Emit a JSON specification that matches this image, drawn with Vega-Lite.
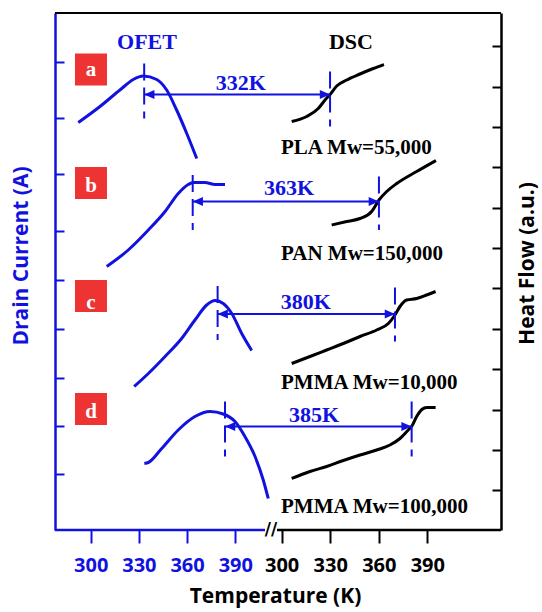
{
  "$schema": "https://vega.github.io/schema/vega-lite/v6.json",
  "background": "white",
  "padding": {"left": 10, "top": 12, "right": 4, "bottom": 2},
  "spacing": 0,
  "bounds": "flush",
  "config": {
    "view": {"stroke": null},
    "axis": {"grid": false, "labelFont": "Open Sans", "labelFontWeight": "bold", "labelFontSize": 20, "titleFont": "Open Sans", "titleFontWeight": "bold", "titleFontSize": 21},
    "text": {"font": "Liberation Serif", "fontWeight": "bold", "fontSize": 21}
  },
  "datasets": {
    "ofet": [
      {"panel": "a", "T": 292.3, "I": 81.5}, {"panel": "a", "T": 305.8, "I": 84.7}, {"panel": "a", "T": 318.2, "I": 88.0}, {"panel": "a", "T": 326.5, "I": 90.1}, {"panel": "a", "T": 332.7, "I": 90.8}, {"panel": "a", "T": 341.1, "I": 90.1}, {"panel": "a", "T": 347.3, "I": 88.0}, {"panel": "a", "T": 353.5, "I": 84.0}, {"panel": "a", "T": 359.8, "I": 79.3}, {"panel": "a", "T": 366.0, "I": 74.3},
      {"panel": "b", "T": 310.0, "I": 52.7}, {"panel": "b", "T": 323.4, "I": 56.0}, {"panel": "b", "T": 335.9, "I": 60.0}, {"panel": "b", "T": 346.3, "I": 63.7}, {"panel": "b", "T": 354.5, "I": 67.3}, {"panel": "b", "T": 360.7, "I": 69.1}, {"panel": "b", "T": 363.9, "I": 69.5}, {"panel": "b", "T": 371.1, "I": 69.5}, {"panel": "b", "T": 377.4, "I": 69.1}, {"panel": "b", "T": 383.6, "I": 69.1},
      {"panel": "c", "T": 327.1, "I": 28.7}, {"panel": "c", "T": 335.9, "I": 31.3}, {"panel": "c", "T": 346.3, "I": 34.7}, {"panel": "c", "T": 356.6, "I": 38.3}, {"panel": "c", "T": 364.9, "I": 42.0}, {"panel": "c", "T": 372.2, "I": 45.0}, {"panel": "c", "T": 377.4, "I": 45.9}, {"panel": "c", "T": 382.5, "I": 45.3}, {"panel": "c", "T": 387.8, "I": 43.3}, {"panel": "c", "T": 394.0, "I": 39.3}, {"panel": "c", "T": 400.2, "I": 35.9},
      {"panel": "d", "T": 333.4, "I": 13.3}, {"panel": "d", "T": 335.9, "I": 13.5}, {"panel": "d", "T": 344.2, "I": 16.3}, {"panel": "d", "T": 354.5, "I": 20.0}, {"panel": "d", "T": 364.9, "I": 22.7}, {"panel": "d", "T": 374.3, "I": 23.7}, {"panel": "d", "T": 382.5, "I": 23.2}, {"panel": "d", "T": 389.8, "I": 21.7}, {"panel": "d", "T": 396.0, "I": 18.7}, {"panel": "d", "T": 402.3, "I": 14.7}, {"panel": "d", "T": 407.4, "I": 10.0}, {"panel": "d", "T": 410.5, "I": 6.3}
    ],
    "dsc": [
      {"panel": "a", "T": 306.2, "H": 81.7}, {"panel": "a", "T": 315.5, "H": 82.7}, {"panel": "a", "T": 322.6, "H": 84.3}, {"panel": "a", "T": 326.8, "H": 86.0}, {"panel": "a", "T": 329.9, "H": 87.1}, {"panel": "a", "T": 334.0, "H": 88.8}, {"panel": "a", "T": 340.2, "H": 90.0}, {"panel": "a", "T": 348.4, "H": 91.2}, {"panel": "a", "T": 356.6, "H": 92.3}, {"panel": "a", "T": 363.2, "H": 93.1},
      {"panel": "b", "T": 330.9, "H": 61.0}, {"panel": "b", "T": 340.2, "H": 61.7}, {"panel": "b", "T": 348.4, "H": 62.3}, {"panel": "b", "T": 355.6, "H": 63.7}, {"panel": "b", "T": 360.1, "H": 66.0}, {"panel": "b", "T": 364.9, "H": 67.7}, {"panel": "b", "T": 371.1, "H": 69.3}, {"panel": "b", "T": 383.4, "H": 71.7}, {"panel": "b", "T": 395.3, "H": 73.9},
      {"panel": "c", "T": 306.2, "H": 33.3}, {"panel": "c", "T": 317.5, "H": 34.7}, {"panel": "c", "T": 327.8, "H": 36.0}, {"panel": "c", "T": 338.1, "H": 37.3}, {"panel": "c", "T": 348.4, "H": 38.7}, {"panel": "c", "T": 358.7, "H": 40.0}, {"panel": "c", "T": 365.9, "H": 41.3}, {"panel": "c", "T": 370.0, "H": 43.0}, {"panel": "c", "T": 373.1, "H": 44.7}, {"panel": "c", "T": 377.2, "H": 46.0}, {"panel": "c", "T": 383.4, "H": 46.3}, {"panel": "c", "T": 389.6, "H": 47.0}, {"panel": "c", "T": 395.1, "H": 47.7},
      {"panel": "d", "T": 306.2, "H": 10.3}, {"panel": "d", "T": 317.5, "H": 11.7}, {"panel": "d", "T": 327.8, "H": 12.7}, {"panel": "d", "T": 338.1, "H": 13.9}, {"panel": "d", "T": 348.4, "H": 15.0}, {"panel": "d", "T": 358.7, "H": 16.0}, {"panel": "d", "T": 366.9, "H": 17.0}, {"panel": "d", "T": 373.1, "H": 18.3}, {"panel": "d", "T": 378.2, "H": 20.0}, {"panel": "d", "T": 380.3, "H": 20.7}, {"panel": "d", "T": 383.4, "H": 22.7}, {"panel": "d", "T": 386.6, "H": 24.1}, {"panel": "d", "T": 389.6, "H": 24.5}, {"panel": "d", "T": 395.1, "H": 24.5}
    ],
    "links": [
      {"panel": "a", "tOfet": 333.3, "yo1": 82.3, "yo2": 93.3, "yArrow": 87.1, "tDsc": 329.9, "yd1": 80.7, "yd2": 91.7},
      {"panel": "b", "tOfet": 363.5, "yo1": 60.0, "yo2": 71.0, "yArrow": 65.7, "tDsc": 360.1, "yd1": 60.0, "yd2": 70.7},
      {"panel": "c", "tOfet": 379.0, "yo1": 38.0, "yo2": 48.8, "yArrow": 43.2, "tDsc": 370.0, "yd1": 37.7, "yd2": 48.5},
      {"panel": "d", "tOfet": 383.6, "yo1": 14.7, "yo2": 25.7, "yArrow": 20.7, "tDsc": 380.3, "yd1": 14.7, "yd2": 25.7}
    ],
    "frameLeft": [{"t0": 277.8, "t1": 411.6, "tb": 408.5, "top": 103.4, "bottom": 0}],
    "frameRight": [{"t0": 292.8, "t1": 435.5, "tb": 297.1, "top": 103.4, "bottom": 0, "tBreak": 293.4, "mark": "//"}],
    "boxes": [
      {"label": "a", "T": 300.2, "yBox": 92.1, "yText": 90.8},
      {"label": "b", "T": 300.2, "yBox": 69.4, "yText": 67.7},
      {"label": "c", "T": 300.2, "yBox": 46.8, "yText": 44.3},
      {"label": "d", "T": 300.2, "yBox": 24.2, "yText": 22.5}
    ],
    "polymers": [
      {"label": "PLA Mw=55,000", "T": 299.6, "y": 75.2},
      {"label": "PAN Mw=150,000", "T": 299.6, "y": 54.0},
      {"label": "PMMA Mw=10,000", "T": 299.6, "y": 28.3},
      {"label": "PMMA Mw=100,000", "T": 299.6, "y": 3.5}
    ],
    "headLeft": [{"label": "OFET", "T": 335.05, "y": 96.2}],
    "headRight": [{"label": "DSC", "T": 342.8, "y": 96.2}],
    "kLeft": [{"label": "332K", "T": 393.5, "y": 88.0}],
    "kRight": [
      {"label": "363K", "T": 304.5, "y": 67.0},
      {"label": "380K", "T": 315.0, "y": 44.3},
      {"label": "385K", "T": 320.0, "y": 21.7}
    ]
  },
  "hconcat": [
    {
      "width": 215,
      "height": 517,
      "layer": [
        {
          "data": {"name": "ofet"},
          "mark": {"type": "line", "color": "#1212E0", "strokeWidth": 3, "interpolate": "monotone"},
          "encoding": {
            "x": {
              "field": "T", "type": "quantitative",
              "scale": {"domain": [277.8, 411.6], "nice": false, "zero": false},
              "axis": {
                "orient": "bottom", "domain": false,
                "values": [300, 315, 330, 345, 360, 375, 390, 405],
                "labelExpr": "datum.value % 30 === 0 ? datum.label : ''",
                "tickColor": "#1212E0", "tickWidth": 2,
                "tickSize": {"condition": {"test": "datum.value % 30 === 0", "value": 13}, "value": 7},
                "labelColor": "#1212E0", "labelPadding": 12,
                "title": "Temperature (K)", "titleColor": "black",
                "titleX": 220, "titleY": 72, "titleAlign": "center", "titleBaseline": "alphabetic", "titleAngle": 0
              }
            },
            "y": {
              "field": "I", "type": "quantitative",
              "scale": {"domain": [0, 103.4], "nice": false, "zero": false},
              "axis": {
                "orient": "left", "domain": true, "domainColor": "#1212E0", "domainWidth": 2.5,
                "values": [93.6, 82.4, 71.2, 59.8, 50.0, 40.2, 30.4, 20.8, 11.2],
                "labels": false, "tickColor": "#1212E0", "tickWidth": 2, "tickSize": -9,
                "title": "Drain Current (A)", "titleColor": "#1212E0",
                "titleX": -34, "titleY": 242.5, "titleAlign": "center", "titleBaseline": "middle", "titleAngle": -90
              }
            },
            "detail": {"field": "panel", "type": "nominal"}
          }
        },
        {
          "data": {"name": "links"},
          "mark": {"type": "rule", "color": "#1212E0", "strokeWidth": 2, "strokeDash": [17, 7]},
          "encoding": {
            "x": {"field": "tOfet", "type": "quantitative"},
            "y": {"field": "yo2", "type": "quantitative"},
            "y2": {"field": "yo1"}
          }
        },
        {
          "data": {"name": "links"},
          "mark": {"type": "rule", "color": "#1212E0", "strokeWidth": 2},
          "encoding": {
            "x": {"field": "tOfet", "type": "quantitative"},
            "x2": {"value": 215},
            "y": {"field": "yArrow", "type": "quantitative"}
          }
        },
        {
          "data": {"name": "links"},
          "mark": {"type": "point", "shape": "M0,0L1,-0.45L1,0.45Z", "filled": true, "color": "#1212E0", "opacity": 1, "size": 420},
          "encoding": {
            "x": {"field": "tOfet", "type": "quantitative"},
            "y": {"field": "yArrow", "type": "quantitative"}
          }
        },
        {
          "data": {"name": "frameLeft"},
          "mark": {"type": "rule", "color": "black", "strokeWidth": 2},
          "encoding": {
            "x": {"field": "t0", "type": "quantitative"},
            "x2": {"field": "t1"},
            "y": {"field": "top", "type": "quantitative"}
          }
        },
        {
          "data": {"name": "frameLeft"},
          "mark": {"type": "rule", "color": "#1212E0", "strokeWidth": 2.5},
          "encoding": {
            "x": {"field": "t0", "type": "quantitative"},
            "x2": {"field": "tb"},
            "y": {"field": "bottom", "type": "quantitative"}
          }
        },
        {
          "data": {"name": "boxes"},
          "mark": {"type": "square", "color": "#EE3333", "filled": true, "opacity": 1, "size": 1024},
          "encoding": {
            "x": {"field": "T", "type": "quantitative"},
            "y": {"field": "yBox", "type": "quantitative"}
          }
        },
        {
          "data": {"name": "boxes"},
          "mark": {"type": "text", "color": "white", "font": "Liberation Serif", "fontWeight": "bold", "fontSize": 21, "align": "center", "baseline": "alphabetic"},
          "encoding": {
            "x": {"field": "T", "type": "quantitative"},
            "y": {"field": "yText", "type": "quantitative"},
            "text": {"field": "label", "type": "nominal"}
          }
        },
        {
          "data": {"name": "headLeft"},
          "mark": {"type": "text", "color": "#1212E0", "font": "Liberation Serif", "fontWeight": "bold", "fontSize": 22, "align": "center", "baseline": "alphabetic"},
          "encoding": {
            "x": {"field": "T", "type": "quantitative"},
            "y": {"field": "y", "type": "quantitative"},
            "text": {"field": "label", "type": "nominal"}
          }
        },
        {
          "data": {"name": "kLeft"},
          "mark": {"type": "text", "color": "#1212E0", "font": "Liberation Serif", "fontWeight": "bold", "fontSize": 22, "align": "center", "baseline": "alphabetic"},
          "encoding": {
            "x": {"field": "T", "type": "quantitative"},
            "y": {"field": "y", "type": "quantitative"},
            "text": {"field": "label", "type": "nominal"}
          }
        }
      ]
    },
    {
      "width": 231,
      "height": 517,
      "layer": [
        {
          "data": {"name": "dsc"},
          "mark": {"type": "line", "color": "black", "strokeWidth": 3, "interpolate": "monotone"},
          "encoding": {
            "x": {
              "field": "T", "type": "quantitative",
              "scale": {"domain": [292.8, 435.5], "nice": false, "zero": false},
              "axis": {
                "orient": "bottom", "domain": false,
                "values": [300, 315, 330, 345, 360, 375, 390, 405],
                "labelExpr": "datum.value % 30 === 0 ? datum.label : ''",
                "tickColor": "black", "tickWidth": 2,
                "tickSize": {"condition": {"test": "datum.value % 30 === 0", "value": 13}, "value": 7},
                "labelColor": "black", "labelPadding": 12,
                "title": null
              }
            },
            "y": {
              "field": "H", "type": "quantitative",
              "scale": {"domain": [0, 103.4], "nice": false, "zero": false},
              "axis": {
                "orient": "right", "domain": true, "domainColor": "black", "domainWidth": 2.5,
                "values": [8.0, 16.1, 24.1, 32.2, 40.3, 48.4, 56.4, 64.5, 72.6, 80.6, 88.7, 96.8],
                "labels": false, "tickColor": "black", "tickWidth": 2, "tickSize": -9,
                "title": "Heat Flow (a.u.)", "titleColor": "black",
                "titleX": 26, "titleY": 250, "titleAlign": "center", "titleBaseline": "middle", "titleAngle": -90
              }
            },
            "detail": {"field": "panel", "type": "nominal"}
          }
        },
        {
          "data": {"name": "links"},
          "mark": {"type": "rule", "color": "#1212E0", "strokeWidth": 2, "strokeDash": [17, 7]},
          "encoding": {
            "x": {"field": "tDsc", "type": "quantitative"},
            "y": {"field": "yd2", "type": "quantitative"},
            "y2": {"field": "yd1"}
          }
        },
        {
          "data": {"name": "links"},
          "mark": {"type": "rule", "color": "#1212E0", "strokeWidth": 2},
          "encoding": {
            "x": {"field": "tDsc", "type": "quantitative"},
            "x2": {"value": 0},
            "y": {"field": "yArrow", "type": "quantitative"}
          }
        },
        {
          "data": {"name": "links"},
          "mark": {"type": "point", "shape": "M0,0L-1,-0.45L-1,0.45Z", "filled": true, "color": "#1212E0", "opacity": 1, "size": 420},
          "encoding": {
            "x": {"field": "tDsc", "type": "quantitative"},
            "y": {"field": "yArrow", "type": "quantitative"}
          }
        },
        {
          "data": {"name": "frameRight"},
          "mark": {"type": "rule", "color": "black", "strokeWidth": 2},
          "encoding": {
            "x": {"field": "t0", "type": "quantitative"},
            "x2": {"field": "t1"},
            "y": {"field": "top", "type": "quantitative"}
          }
        },
        {
          "data": {"name": "frameRight"},
          "mark": {"type": "rule", "color": "black", "strokeWidth": 2.5},
          "encoding": {
            "x": {"field": "tb", "type": "quantitative"},
            "x2": {"field": "t1"},
            "y": {"field": "bottom", "type": "quantitative"}
          }
        },
        {
          "data": {"name": "frameRight"},
          "mark": {"type": "text", "color": "black", "font": "DejaVu Sans", "fontWeight": "bold", "fontSize": 17, "align": "center", "baseline": "middle"},
          "encoding": {
            "x": {"field": "tBreak", "type": "quantitative"},
            "y": {"field": "bottom", "type": "quantitative"},
            "text": {"field": "mark", "type": "nominal"}
          }
        },
        {
          "data": {"name": "headRight"},
          "mark": {"type": "text", "color": "black", "font": "Liberation Serif", "fontWeight": "bold", "fontSize": 22, "align": "center", "baseline": "alphabetic"},
          "encoding": {
            "x": {"field": "T", "type": "quantitative"},
            "y": {"field": "y", "type": "quantitative"},
            "text": {"field": "label", "type": "nominal"}
          }
        },
        {
          "data": {"name": "polymers"},
          "mark": {"type": "text", "color": "black", "font": "Liberation Serif", "fontWeight": "bold", "fontSize": 21, "align": "left", "baseline": "alphabetic"},
          "encoding": {
            "x": {"field": "T", "type": "quantitative"},
            "y": {"field": "y", "type": "quantitative"},
            "text": {"field": "label", "type": "nominal"}
          }
        },
        {
          "data": {"name": "kRight"},
          "mark": {"type": "text", "color": "#1212E0", "font": "Liberation Serif", "fontWeight": "bold", "fontSize": 22, "align": "center", "baseline": "alphabetic"},
          "encoding": {
            "x": {"field": "T", "type": "quantitative"},
            "y": {"field": "y", "type": "quantitative"},
            "text": {"field": "label", "type": "nominal"}
          }
        }
      ]
    }
  ]
}
